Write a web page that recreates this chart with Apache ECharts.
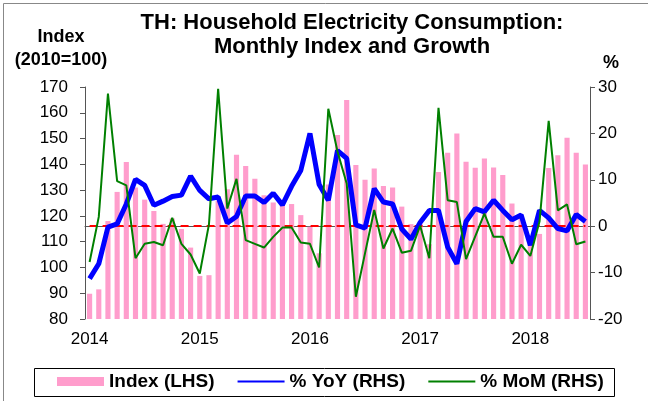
<!DOCTYPE html>
<html>
<head>
<meta charset="utf-8">
<script src="https://cdn.jsdelivr.net/npm/echarts@6/dist/echarts.min.js"></script>
<style>
  html, body { margin: 0; padding: 0; background: #fff; }
  #chart { width: 648px; height: 401px; }
</style>
</head>
<body>
<div id="chart"></div>
<script>
// months Jan 2014 .. Jul 2018
const years = ['2014', '2015', '2016', '2017', '2018']
const months = []
years.forEach(y => {
  for (let m = 1; m <= 12; m++) {
    if (y === '2018' && m > 7) break
    months.push(y + '-' + (m < 10 ? '0' + m : m))
  }
})

// Index (LHS), 2010=100
const indexValues = [
  89.8, 91.5, 118, 129.3, 140.9, 131, 126.3, 121.9, 116.9, 119, 114.9, 107.7,
  96.7, 97, 125.8, 130.3, 143.7, 139.4, 134.4, 128, 125.2, 124.8, 124.6, 120.3,
  115.8, 105.5, 132.2, 151.4, 165, 139.7, 134, 138.4, 131.6, 131, 123.6, 116.8,
  116.9, 109, 137, 144.5, 152, 141, 138.7, 142.3, 138.8, 135.9, 124.8, 119.5,
  112, 113, 138.6, 143.5, 150.3, 144.5, 139.9
]

// % YoY (RHS)
const yoyValues = [
  -11.3, -8.1, -0.2, 0.5, 4.8, 10.1, 8.8, 4.5, 5.4, 6.4, 6.7, 10.8,
  7.7, 5.9, 6.3, 0.7, 2.1, 6.5, 6.5, 5.1, 7.1, 4.6, 8.6, 12.0,
  20.0, 9.0, 5.6, 16.3, 14.6, 0.3, -0.4, 8.1, 5.2, 4.8, -0.6, -2.8,
  0.8, 3.4, 3.4, -4.5, -8.1, 1.0, 3.8, 3.1, 5.6, 3.4, 1.4, 2.4,
  -4.1, 3.4, 1.8, -0.5, -1.0, 2.5, 1.0
]

// % MoM (RHS)
const momValues = [
  -7.7, 2.0, 28.6, 9.7, 8.8, -6.9, -3.8, -3.4, -4.1, 1.8, -3.8, -6.1,
  -10.2, 0.4, 29.6, 3.8, 10.2, -3.0, -3.8, -4.6, -2.3, -0.3, -0.3, -3.5,
  -3.8, -8.9, 25.3, 16.1, 9.2, -15.2, -5.8, 3.5, -4.8, -0.5, -5.7, -5.3,
  0.1, -6.9, 25.5, 5.6, 5.2, -7.1, -2.2, 2.7, -2.3, -2.3, -8.1, -4.0,
  -6.4, 1.0, 22.7, 3.4, 4.7, -3.9, -3.3
]

const chart = echarts.init(document.getElementById('chart'), null, { renderer: 'canvas' })
const font = 'Arial, "Liberation Sans", sans-serif'
const axisColor = '#555'
const noSymbol = { color: 'rgba(0,0,0,0)', borderWidth: 0 }

chart.setOption({
  animation: false,
  textStyle: { fontFamily: font },
  grid: { left: 85, right: 58, top: 87, bottom: 82 },
  legend: {
    left: 57,
    top: 372,
    padding: 0,
    itemWidth: 47,
    itemHeight: 9,
    itemGap: 22,
    textStyle: { fontSize: 19, fontWeight: 'bold', color: '#000', fontFamily: font },
    data: [
      { name: 'Index (LHS)', icon: 'rect' },
      { name: '% YoY (RHS)', itemStyle: noSymbol },
      { name: '% MoM (RHS)', itemStyle: noSymbol }
    ]
  },
  xAxis: {
    type: 'category',
    data: months,
    boundaryGap: true,
    axisLine: { lineStyle: { color: axisColor, width: 1 } },
    axisTick: {
      length: 5,
      lineStyle: { color: axisColor },
      interval: (i) => i % 12 === 0
    },
    axisLabel: {
      interval: (i) => i % 12 === 0,
      formatter: (v) => v.slice(0, 4),
      fontSize: 17,
      color: '#000',
      margin: 12
    },
    splitLine: { show: false }
  },
  yAxis: [
    {
      type: 'value',
      min: 80,
      max: 170,
      interval: 10,
      axisLine: { show: true, lineStyle: { color: axisColor } },
      axisTick: { show: true, length: 5, lineStyle: { color: axisColor } },
      axisLabel: { fontSize: 17, color: '#000', margin: 17 },
      splitLine: { show: false }
    },
    {
      type: 'value',
      min: -20,
      max: 30,
      interval: 10,
      position: 'right',
      axisLine: { show: true, lineStyle: { color: axisColor } },
      axisTick: { show: true, length: 5, lineStyle: { color: axisColor } },
      axisLabel: { fontSize: 17, color: '#000', margin: 8 },
      splitLine: { show: false }
    }
  ],
  graphic: [
    { type: 'line', shape: { x1: 3.5, y1: 3.5, x2: 648, y2: 3.5 }, style: { stroke: '#888', lineWidth: 1 } },
    { type: 'line', shape: { x1: 3.5, y1: 3.5, x2: 3.5, y2: 401 }, style: { stroke: '#888', lineWidth: 1 } },
    { type: 'text', x: 352, y: 23, style: { text: 'TH: Household Electricity Consumption:', font: 'bold 22px ' + font, fill: '#000', textAlign: 'center', textVerticalAlign: 'middle', align: 'center', verticalAlign: 'middle' } },
    { type: 'text', x: 352, y: 47, style: { text: 'Monthly Index and Growth', font: 'bold 22px ' + font, fill: '#000', textAlign: 'center', textVerticalAlign: 'middle', align: 'center', verticalAlign: 'middle' } },
    { type: 'text', x: 61, y: 37, style: { text: 'Index', font: 'bold 18px ' + font, fill: '#000', textAlign: 'center', textVerticalAlign: 'middle', align: 'center', verticalAlign: 'middle' } },
    { type: 'text', x: 61, y: 60, style: { text: '(2010=100)', font: 'bold 18px ' + font, fill: '#000', textAlign: 'center', textVerticalAlign: 'middle', align: 'center', verticalAlign: 'middle' } },
    { type: 'text', x: 611, y: 63, style: { text: '%', font: 'bold 18px ' + font, fill: '#000', textAlign: 'center', textVerticalAlign: 'middle', align: 'center', verticalAlign: 'middle' } },
    { type: 'rect', shape: { x: 34.5, y: 368.5, width: 580, height: 28 }, style: { stroke: '#000', fill: 'none', lineWidth: 1 }, z: -1 }
  ],
  series: [
    {
      name: 'Index (LHS)',
      type: 'bar',
      yAxisIndex: 0,
      data: indexValues,
      barWidth: '56%',
      itemStyle: { color: '#ff9dcc' },
      z: 1
    },
    {
      name: '% YoY (RHS)',
      type: 'line',
      yAxisIndex: 1,
      data: yoyValues,
      symbol: 'none',
      lineStyle: { color: '#0000ff', width: 5 },
      itemStyle: { color: '#0000ff' },
      z: 3,
      markLine: {
        silent: true,
        symbol: 'none',
        z: 2,
        label: { show: false },
        lineStyle: { color: '#ff0000', type: [8, 5], width: 2 },
        data: [[{ coord: [months[0], 0] }, { coord: [months[months.length - 1], 0] }]]
      }
    },
    {
      name: '% MoM (RHS)',
      type: 'line',
      yAxisIndex: 1,
      data: momValues,
      symbol: 'none',
      lineStyle: { color: '#008000', width: 2 },
      itemStyle: { color: '#008000' },
      z: 4
    }
  ]
})
</script>
</body>
</html>
